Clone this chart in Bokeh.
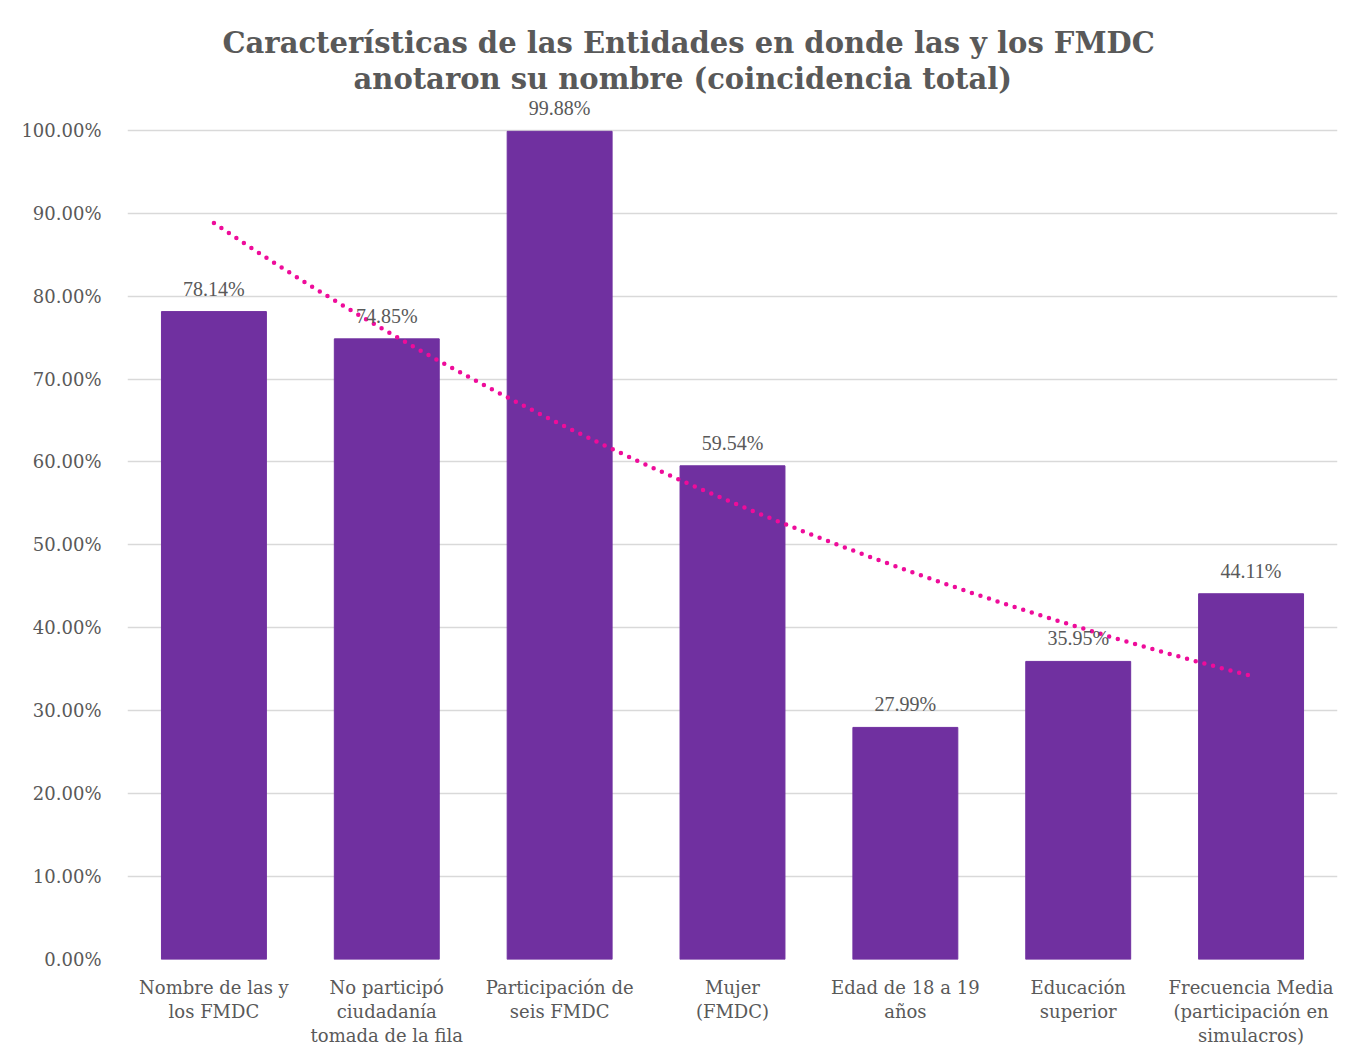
import numpy as np
from bokeh.plotting import figure
from bokeh.models import ColumnDataSource, Range1d, FixedTicker, Title, LabelSet
from bokeh.embed import file_html
from bokeh.resources import INLINE

categories = [
    "Nombre de las y\nlos FMDC",
    "No participó\nciudadanía\ntomada de la fila",
    "Participación de\nseis FMDC",
    "Mujer\n(FMDC)",
    "Edad de 18 a 19\naños",
    "Educación\nsuperior",
    "Frecuencia Media\n(participación en\nsimulacros)",
]
values = [78.14, 74.85, 99.88, 59.54, 27.99, 35.95, 44.11]
y_ticks = [0, 10, 20, 30, 40, 50, 60, 70, 80, 90, 100]
y_tick_labels = ["%.2f%%" % t for t in y_ticks]
title_line1 = "Características de las Entidades en donde las y los FMDC"
title_line2 = "anotaron su nombre (coincidencia total)"

FONT = "DejaVu Serif"
GRAY = "#595959"
BAR = "#7030A0"

xs = list(range(1, len(categories) + 1))
src = ColumnDataSource(dict(
    x=xs, top=values, label=["%.2f%%" % v for v in values]))

# exponential trendline fitted to the data (like a spreadsheet trendline)
coef = np.polyfit(np.array(xs, float), np.log(values), 1)
tx = np.linspace(1, len(xs), 80)
ty = np.exp(coef[1] + coef[0] * tx)

p = figure(width=1360, height=1050, output_backend="svg", toolbar_location=None,
           x_range=Range1d(0.5, len(xs) + 0.5), y_range=Range1d(0, 104.2),
           min_border_left=127, min_border_right=23, min_border_top=95,
           min_border_bottom=91)
p.outline_line_color = None
p.background_fill_color = "white"
p.border_fill_color = "white"

p.add_layout(Title(text=title_line2, align="left", text_font=FONT,
                   text_font_size="29px", text_font_style="bold",
                   text_color=GRAY, standoff=0, offset=226), "above")
p.add_layout(Title(text=title_line1, align="left", text_font=FONT,
                   text_font_size="29px", text_font_style="bold",
                   text_color=GRAY, standoff=0, offset=95), "above")

p.xgrid.grid_line_color = None
p.ygrid.grid_line_color = "#D9D9D9"
p.ygrid.grid_line_width = 1.5
p.yaxis.ticker = FixedTicker(ticks=y_ticks)
p.yaxis.major_label_overrides = {t: l for t, l in zip(y_ticks, y_tick_labels)}
p.xaxis.ticker = FixedTicker(ticks=xs)
p.xaxis.major_label_overrides = {x: c for x, c in zip(xs, categories)}

for ax in (p.xaxis[0], p.yaxis[0]):
    ax.axis_line_color = None
    ax.major_tick_line_color = None
    ax.minor_tick_line_color = None
    ax.major_label_text_font = FONT
    ax.major_label_text_color = GRAY
    ax.major_label_text_font_size = "18px"
p.yaxis.major_label_standoff = 20
p.xaxis.major_label_standoff = 11
p.xaxis.major_label_text_line_height = 1.15

p.vbar(x="x", top="top", width=0.607, bottom=0, source=src,
       fill_color=BAR, line_color=BAR)

p.line(tx, ty, line_color="#EE0C9A", line_width=4.5, line_dash="0 9",
       line_cap="round")

labels = LabelSet(x="x", y="top", text="label", source=src,
                  text_align="center", text_baseline="bottom", y_offset=12,
                  text_font=FONT, text_font_size="20px", text_color=GRAY)
p.add_layout(labels)

open("out.html", "w").write(file_html(p, INLINE))
